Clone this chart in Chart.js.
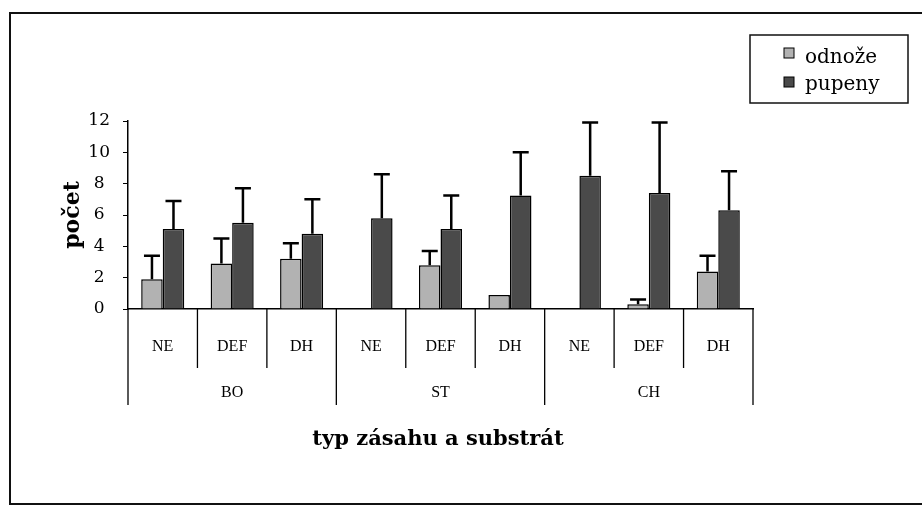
<!DOCTYPE html>
<html lang="cs">
<head>
	<meta charset="UTF-8">
	<title>počet</title>
	<script src="https://cdn.jsdelivr.net/npm/chart.js@4"></script>
	<style>
		html, body { margin: 0; padding: 0; background: #fff; }
		#wrap { width: 922px; height: 506px; }
	</style>
</head>
<body>
<div id="wrap"><canvas id="myChart" width="922" height="506"></canvas></div>
<script>
	// data
	const categories = ['NE', 'DEF', 'DH', 'NE', 'DEF', 'DH', 'NE', 'DEF', 'DH'];
	const groups = ['BO', 'ST', 'CH'];
	const odnoze = [1.9, 2.9, 3.2, 0, 2.8, 0.9, 0, 0.3, 2.4];
	const odnozeErr = [1.5, 1.6, 1.0, 0, 0.9, 0, 0, 0.3, 1.0];
	const pupeny = [5.1, 5.5, 4.8, 5.8, 5.1, 7.25, 8.5, 7.4, 6.3];
	const pupenyErr = [1.8, 2.2, 2.2, 2.8, 2.15, 2.75, 3.4, 4.5, 2.5];
	const yTicks = [0, 2, 4, 6, 8, 10, 12];

	const serif = '"Liberation Serif", serif';
	const wide = '"DejaVu Serif", serif';

	const errorBars = {
		id: 'errorBars',
		afterDatasetsDraw(chart) {
			const ctx = chart.ctx;
			const y = chart.scales.y;
			ctx.save();
			ctx.strokeStyle = '#000';
			ctx.lineWidth = 2.5;
			chart.data.datasets.forEach((ds, i) => {
				const meta = chart.getDatasetMeta(i);
				meta.data.forEach((bar, j) => {
					const e = ds.errors[j];
					if (!e) return;
					const top = y.getPixelForValue(ds.data[j] + e);
					ctx.beginPath();
					ctx.moveTo(bar.x, bar.y);
					ctx.lineTo(bar.x, top);
					ctx.moveTo(bar.x - 8, top);
					ctx.lineTo(bar.x + 8, top);
					ctx.stroke();
				});
			});
			ctx.restore();
		}
	};

	const decorations = {
		id: 'decorations',
		afterDraw(chart) {
			const ctx = chart.ctx;
			const x = chart.scales.x;
			const base = chart.chartArea.bottom;
			const n = categories.length;
			const step = x.getPixelForValue(1) - x.getPixelForValue(0);
			ctx.save();

			// outer frame, no right edge
			ctx.strokeStyle = '#111';
			ctx.lineWidth = 2;
			ctx.beginPath();
			ctx.moveTo(922, 13);
			ctx.lineTo(10, 13);
			ctx.lineTo(10, 504);
			ctx.lineTo(922, 504);
			ctx.stroke();

			// separators under the axis
			ctx.lineWidth = 1.3;
			ctx.strokeStyle = '#000';
			for (let i = 0; i <= n; i++) {
				const px = x.getPixelForValue(i) - step / 2;
				ctx.beginPath();
				ctx.moveTo(px, base);
				ctx.lineTo(px, i % 3 === 0 ? 405 : 368);
				ctx.stroke();
			}

			ctx.fillStyle = '#000';
			ctx.textAlign = 'center';
			ctx.textBaseline = 'middle';
			ctx.font = '16px ' + serif;
			categories.forEach((c, i) => ctx.fillText(c, x.getPixelForValue(i), 347));
			groups.forEach((g, i) => ctx.fillText(g, x.getPixelForValue(i * 3 + 1), 393));

			// axis titles
			ctx.font = 'bold 21px ' + wide;
			ctx.fillText('typ zásahu a substrát', 438, 440);
			ctx.save();
			ctx.translate(73, 215);
			ctx.rotate(-Math.PI / 2);
			ctx.font = 'bold 22px ' + wide;
			ctx.fillText('počet', 0, 0);
			ctx.restore();

			// legend
			ctx.lineWidth = 1.5;
			ctx.strokeStyle = '#111';
			ctx.strokeRect(750, 35, 158, 68);
			ctx.font = '20px ' + wide;
			ctx.textAlign = 'left';
			ctx.textBaseline = 'alphabetic';
			chart.data.datasets.forEach((ds, i) => {
				const top = 48 + i * 29;
				ctx.fillStyle = ds.backgroundColor;
				ctx.fillRect(784, top, 10, 10);
				ctx.lineWidth = 1;
				ctx.strokeStyle = '#000';
				ctx.strokeRect(784, top, 10, 10);
				ctx.fillStyle = '#000';
				ctx.fillText(ds.label, 805, 63 + i * 27);
			});
			ctx.restore();
		}
	};

	const ctx = document.getElementById('myChart').getContext('2d');
	const myChart = new Chart(ctx, {
		type: 'bar',
		data: {
			labels: categories,
			datasets: [
				{
					label: 'odnože',
					data: odnoze,
					errors: odnozeErr,
					backgroundColor: '#b2b2b2',
					borderColor: '#000',
					borderWidth: 1.5,
					categoryPercentage: 0.62,
					barPercentage: 1
				},
				{
					label: 'pupeny',
					data: pupeny,
					errors: pupenyErr,
					backgroundColor: '#4a4a4a',
					borderColor: '#000',
					borderWidth: 1.5,
					categoryPercentage: 0.62,
					barPercentage: 1
				}
			]
		},
		options: {
			responsive: false,
			animation: false,
			layout: { padding: { left: 68, right: 169, top: 121, bottom: 197 } },
			plugins: {
				legend: { display: false },
				tooltip: { enabled: false }
			},
			scales: {
				x: {
					ticks: { display: false },
					grid: { display: false },
					border: { color: '#000', width: 1.5 },
					afterFit(scale) { scale.height = 0; }
				},
				y: {
					min: 0,
					max: 12,
					afterBuildTicks(scale) { scale.ticks = yTicks.map(v => ({ value: v })); },
					ticks: {
						color: '#000',
						padding: 13,
						crossAlign: 'center',
						font: { family: wide, size: 17 }
					},
					grid: { drawOnChartArea: false, drawTicks: true, tickLength: 5, color: '#000' },
					border: { color: '#000', width: 1.5 },
					afterFit(scale) { scale.width = 60; }
				}
			}
		},
		plugins: [errorBars, decorations]
	});
</script>
</body>
</html>
